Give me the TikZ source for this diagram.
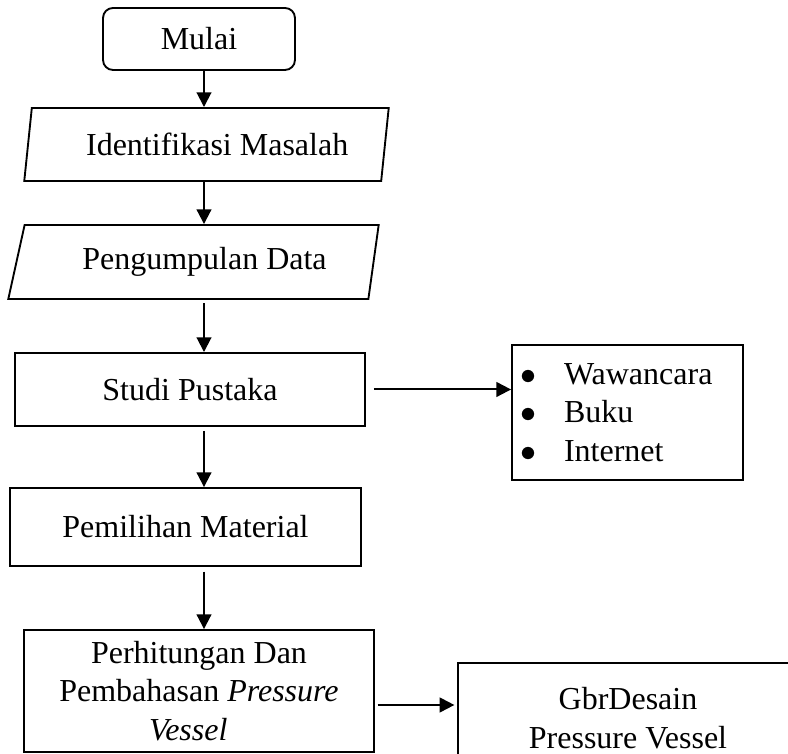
\documentclass[tikz,border=0pt]{standalone}
\usepackage{fontspec}
\setmainfont{Liberation Serif}
\usetikzlibrary{shapes.geometric,arrows.meta}

\begin{document}
\begin{tikzpicture}[x=0.375pt, y=-0.375pt,
  every node/.style={font=\fontsize{12}{14.5}\selectfont},
  box/.style={draw, line width=0.7pt, inner sep=0pt, align=center},
  slant/.style={box, trapezium, trapezium stretches=true},
  arr/.style={-{Triangle[length=5.5pt,width=5.5pt]}, line width=0.75pt}]
  \useasboundingbox (0,0) rectangle (788,754);

  % Main column
  \coordinate (axis) at (204,0);
  \node[box, rounded corners=3.75pt, minimum width=72pt, minimum height=23.25pt] (mulai) at (199,39) {Mulai};
  \node[slant, trapezium left angle=75, trapezium right angle=105,
        minimum width=136.9pt, minimum height=27.4pt] (ident) at (206.5,144.5) {\hspace*{8pt}Identifikasi Masalah};
  \node[slant, trapezium left angle=67, trapezium right angle=105,
        minimum width=139.1pt, minimum height=27.75pt] (data) at (196.5,262) {\hspace*{6pt}Pengumpulan Data};
  \node[box, minimum width=131.25pt, minimum height=27.4pt] (studi) at (190,389.5) {Studi Pustaka};
  \node[box, minimum width=131.6pt, minimum height=29.25pt] (material) at (185.5,527) {Pemilihan Material};
  \node[box, minimum width=131.25pt, minimum height=45.75pt] (hitung) at (199,691)
    {Perhitungan Dan\\Pembahasan \textit{Pressure}\\\textit{Vessel}\hspace*{8pt}};

  % Side boxes
  \node[box, align=left, minimum width=86.6pt, minimum height=50.6pt, inner xsep=3pt, text width=80.6pt]
    (sumber) at (627.5,412.5)
    {$\bullet$\hspace{10.5pt}Wawancara\\$\bullet$\hspace{10.5pt}Buku\\$\bullet$\hspace{10.5pt}Internet};
  \node[box, minimum width=127.5pt, minimum height=41.25pt] (desain) at (628,718)
    {GbrDesain\\Pressure Vessel};

  % Arrows
  \draw[arr] (axis |- mulai.south) -- (axis |- ident.north);
  \draw[arr] (axis |- ident.south) -- (axis |- data.north);
  \draw[arr, shorten <=1.2pt] (axis |- data.south) -- (axis |- studi.north);
  \draw[arr, shorten <=1.5pt] (axis |- studi.south) -- (axis |- material.north);
  \draw[arr, shorten <=1.8pt] (axis |- material.south) -- (axis |- hitung.north);
  \draw[arr, shorten <=3pt] (studi.east) -- (studi.east -| sumber.west);
  \coordinate (lvl) at (0,705);
  \draw[arr, shorten <=1pt, shorten >=1pt] (hitung.east |- lvl) -- (desain.west |- lvl);
\end{tikzpicture}
\end{document}
